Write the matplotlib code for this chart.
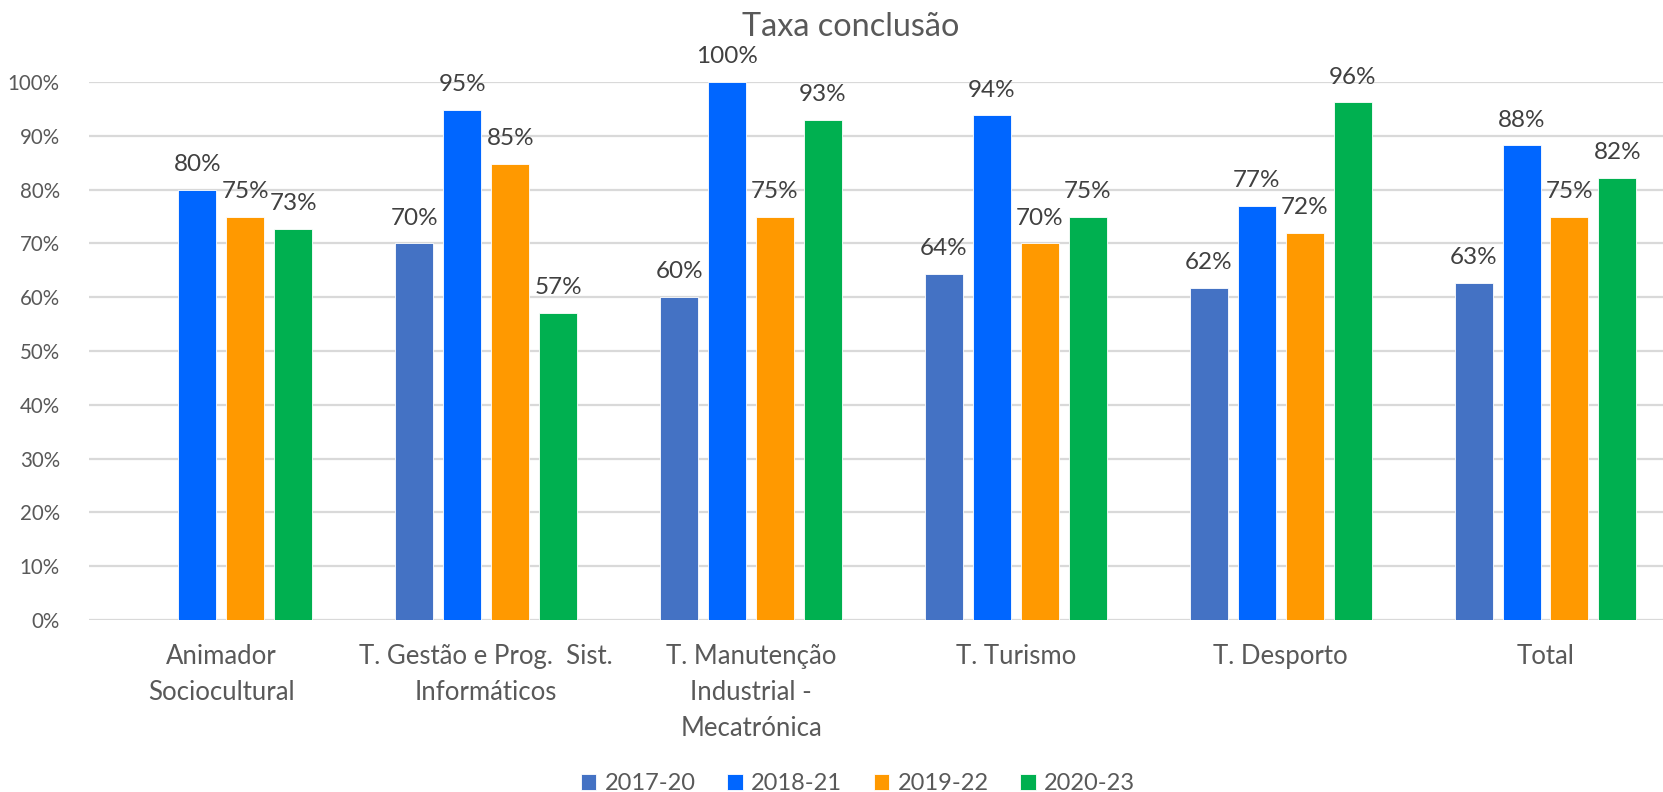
import numpy as np
import matplotlib
matplotlib.use("Agg")
import matplotlib.pyplot as plt

plt.rcParams["font.family"] = ["Lato", "DejaVu Sans"]

# ── data ──────────────────────────────────────────────────────────────────────
courses = [
    "Animador\nSociocultural",
    "T. Gestão e Prog.  Sist.\nInformáticos",
    "T. Manutenção\nIndustrial -\nMecatrónica",
    "T. Turismo",
    "T. Desporto",
    "Total",
]
series = ["2017-20", "2018-21", "2019-22", "2020-23"]

rate_2017 = [np.nan, 0.70, 0.60, 0.643, 0.617, 0.627]
rate_2018 = [0.80, 0.948, 1.00, 0.938, 0.77, 0.882]
rate_2019 = [0.75, 0.848, 0.75, 0.70, 0.72, 0.75]
rate_2020 = [0.727, 0.571, 0.929, 0.75, 0.962, 0.822]

colors = ["#4472C4", "#0066FF", "#FF9900", "#00B050"]

# ── figure ────────────────────────────────────────────────────────────────────
W, H = 1663, 792
fig = plt.figure(figsize=(W / 100, H / 100), dpi=100)
ax = fig.add_axes([89 / W, (H - 620) / H, (W - 89) / W, 538 / H])

x = np.arange(len(courses))
width = 0.1435
pitch = 0.181
offsets = (np.arange(4) - 1.5) * pitch

for vals, off, col, name in zip(
    [rate_2017, rate_2018, rate_2019, rate_2020], offsets, colors, series
):
    v = np.array(vals, dtype=float)
    ax.bar(x + off, v, width=width, color=col, label=name,
           edgecolor="white", linewidth=0.6, zorder=3)
    for xi, vi in zip(x + off, v):
        if np.isnan(vi):
            continue
        ax.annotate(f"{vi:.0%}", xy=(xi, vi), xytext=(0, 13.5),
                    textcoords="offset points", ha="center", va="baseline",
                    fontsize=17.5, color="#404040", annotation_clip=False)

ax.set_xlim(-0.5, 5.4436)
ax.set_ylim(0, 1.0)
ax.set_yticks(np.arange(0, 1.01, 0.1))
ax.set_yticklabels([f"{t:.0%}" for t in np.arange(0, 1.01, 0.1)])
ax.set_xticks(x)
ax.set_xticklabels(courses, linespacing=1.55)

ax.grid(axis="y", color="#D9D9D9", linewidth=1.6, zorder=0)
ax.set_axisbelow(True)
for s in ax.spines.values():
    s.set_visible(False)
ax.tick_params(axis="y", length=0, pad=21, labelsize=14.8, labelcolor="#595959")
ax.tick_params(axis="x", length=0, pad=17, labelsize=18.5, labelcolor="#595959")

fig.text(851 / W, 1 - 27 / H, "Taxa conclusão", ha="center", va="center",
         fontsize=23.3, color="#595959")

fig.legend(loc="center", bbox_to_anchor=(858 / W, 1 - 784 / H), ncol=4,
           frameon=False, fontsize=17, labelcolor="#595959",
           handlelength=0.65, handleheight=0.65, handletextpad=0.35,
           columnspacing=1.35)

fig.savefig("out.png", dpi=100)
